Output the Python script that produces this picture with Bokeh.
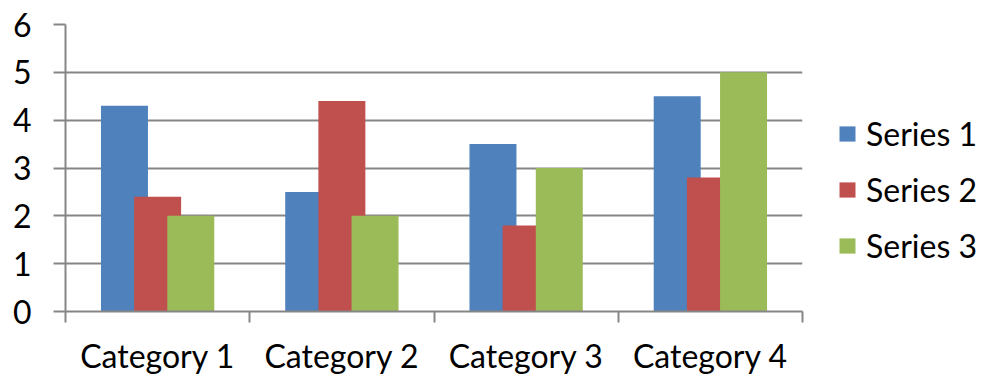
from bokeh.plotting import figure
from bokeh.models import Range1d, FixedTicker, Legend, LegendItem, ColumnDataSource
from bokeh.layouts import row
from bokeh.embed import file_html
from bokeh.resources import INLINE
import numpy as np

categories = ["Category 1", "Category 2", "Category 3", "Category 4"]
series_names = ["Series 1", "Series 2", "Series 3"]
series1 = [4.3, 2.5, 3.5, 4.5]
series2 = [2.4, 4.4, 1.8, 2.8]
series3 = [2.0, 2.0, 3.0, 5.0]
y_ticks = [0, 1, 2, 3, 4, 5, 6]

colors = ["#4F81BD", "#C0504D", "#9BBB59"]
FONT = "Lato"
FSIZE = "32px"
GRID = "#868686"

p = figure(width=804, height=383, output_backend="svg", toolbar_location=None,
           x_range=Range1d(0, 4), y_range=Range1d(0, 6),
           min_border_left=65, min_border_right=2,
           min_border_top=24, min_border_bottom=72)
p.outline_line_color = None
p.background_fill_color = "white"
p.border_fill_color = "white"

idx = np.arange(len(categories))
offsets = [-0.18, 0.0, 0.18]
bar_w = 0.255
for vals, off, col in zip([series1, series2, series3], offsets, colors):
    src = ColumnDataSource(dict(x=idx + 0.5 + off, top=vals))
    p.vbar(x="x", top="top", width=bar_w, bottom=0, source=src,
           fill_color=col, line_color=None)

# y axis
p.yaxis.ticker = FixedTicker(ticks=y_ticks)
p.yaxis.axis_line_color = GRID
p.yaxis.axis_line_width = 2
p.yaxis.major_tick_line_color = GRID
p.yaxis.major_tick_line_width = 2
p.yaxis.major_tick_out = 12
p.yaxis.major_tick_in = 0
p.yaxis.minor_tick_line_color = None
p.yaxis.major_label_standoff = 22
p.yaxis.major_label_text_font = FONT
p.yaxis.major_label_text_font_size = FSIZE
p.yaxis.major_label_text_color = "black"

# x axis
p.xaxis.ticker = FixedTicker(ticks=list(idx + 0.5), minor_ticks=list(range(len(categories) + 1)))
p.xaxis.major_label_overrides = {float(i + 0.5): c for i, c in enumerate(categories)}
p.xaxis.axis_line_color = GRID
p.xaxis.axis_line_width = 2
p.xaxis.major_tick_line_color = None
p.xaxis.major_tick_out = 0
p.xaxis.major_tick_in = 0
p.xaxis.minor_tick_line_color = GRID
p.xaxis.minor_tick_line_width = 2
p.xaxis.minor_tick_out = 11
p.xaxis.minor_tick_in = 0
p.xaxis.major_label_standoff = 13
p.xaxis.major_label_text_font = FONT
p.xaxis.major_label_text_font_size = FSIZE
p.xaxis.major_label_text_color = "black"

p.xgrid.grid_line_color = None
p.ygrid.grid_line_color = GRID
p.ygrid.grid_line_width = 2

# legend panel
lg = figure(width=191, height=383, output_backend="svg", toolbar_location=None,
            x_range=Range1d(0, 1), y_range=Range1d(0, 1),
            min_border=0, x_axis_type=None, y_axis_type=None)
lg.outline_line_color = None
lg.grid.visible = False
lg.background_fill_color = "white"
lg.border_fill_color = "white"
lrs = []
for col in colors:
    # swatch-only renderers: zero-height bars, nothing visible on the panel
    lrs.append(lg.vbar(x=[0.5], top=[0], bottom=[0], width=0.01,
                       fill_color=col, line_color=None))

legend = Legend(items=[LegendItem(label=n, renderers=[r]) for n, r in zip(series_names, lrs)],
                location=(33, 46), glyph_width=20, glyph_height=19, label_standoff=9,
                spacing=17, padding=0, margin=0, border_line_color=None,
                background_fill_alpha=0, label_text_font=FONT,
                label_text_font_size=FSIZE, label_text_color="black")
lg.add_layout(legend)

layout = row(p, lg)
open("out.html", "w").write(file_html(layout, INLINE))
